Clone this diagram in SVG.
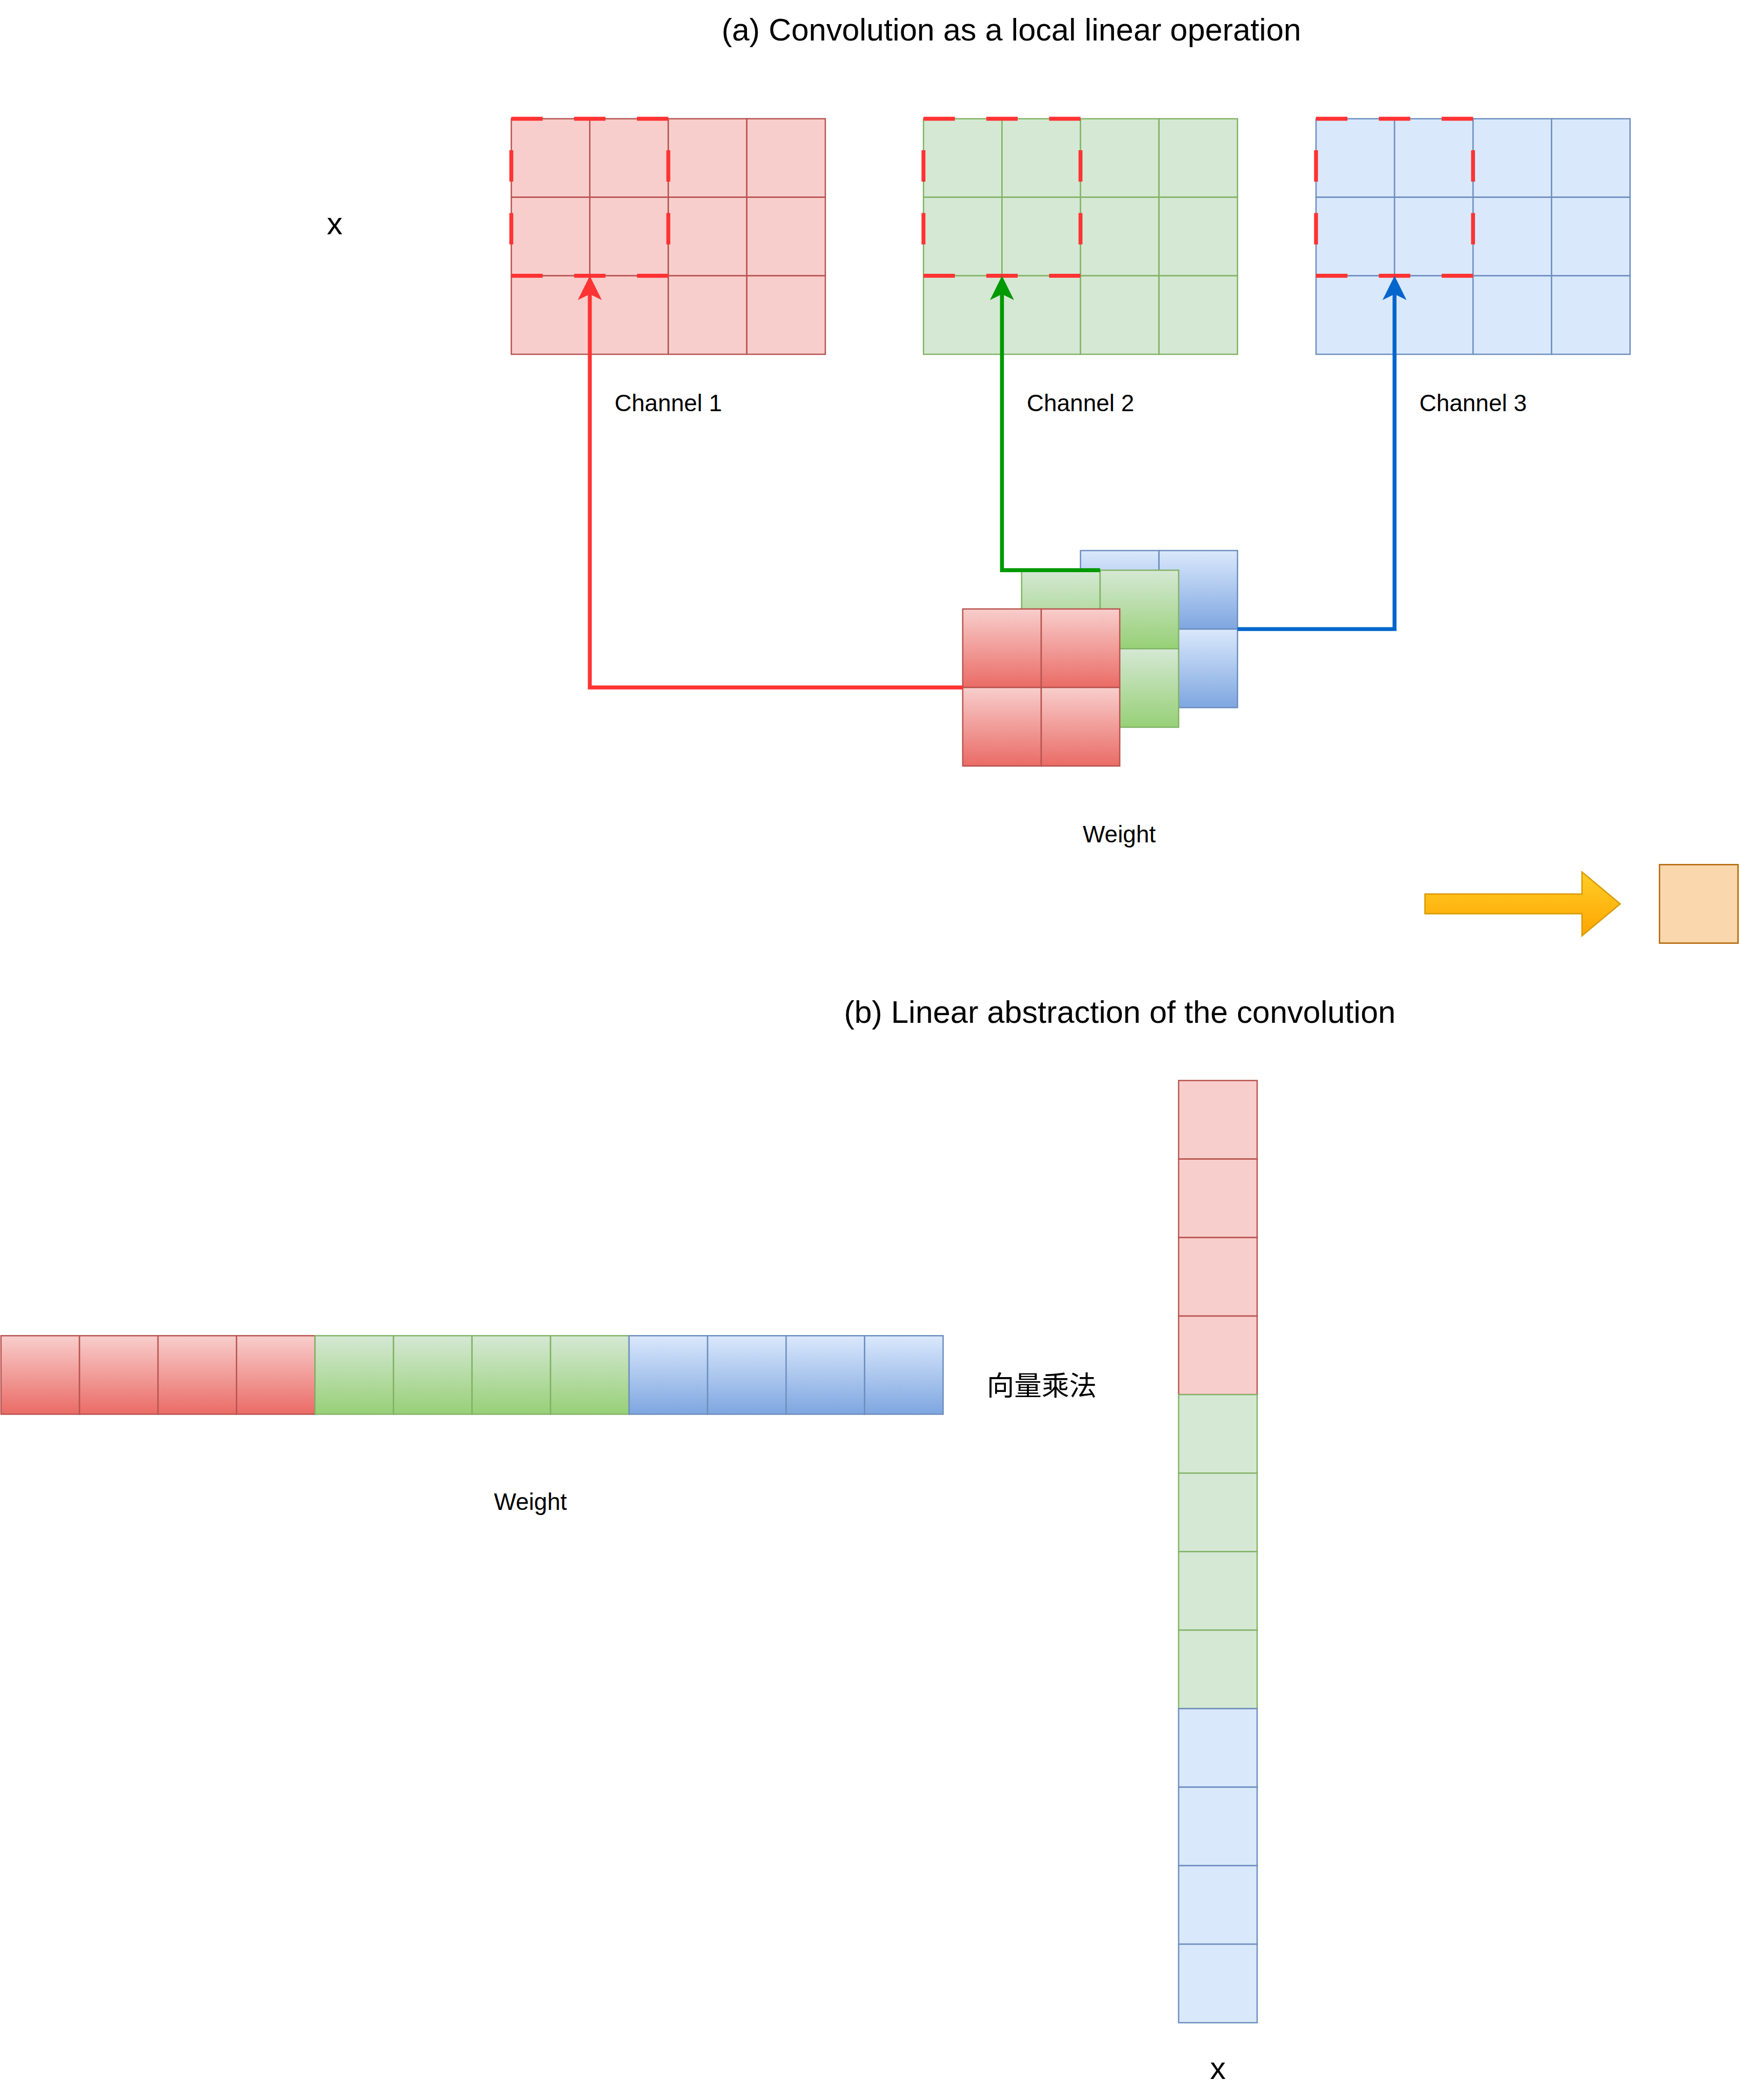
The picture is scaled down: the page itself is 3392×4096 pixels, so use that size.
<svg xmlns="http://www.w3.org/2000/svg" width="3392" height="4096" viewBox="0 0 3392 4096">
<defs>
  <linearGradient id="gr" x1="0" y1="0" x2="0" y2="1"><stop offset="0" stop-color="#F8CECC"/><stop offset="1" stop-color="#EA6B66"/></linearGradient>
  <linearGradient id="gg" x1="0" y1="0" x2="0" y2="1"><stop offset="0" stop-color="#D5E8D4"/><stop offset="1" stop-color="#97D077"/></linearGradient>
  <linearGradient id="gb" x1="0" y1="0" x2="0" y2="1"><stop offset="0" stop-color="#DAE8FC"/><stop offset="1" stop-color="#7EA6E0"/></linearGradient>
  <linearGradient id="go" x1="0" y1="0" x2="0" y2="1"><stop offset="0" stop-color="#FFCD28"/><stop offset="1" stop-color="#FFA500"/></linearGradient>
  <marker id="mr" markerUnits="userSpaceOnUse" viewBox="-13 -25 51 50" markerWidth="51" markerHeight="50" refX="0" refY="0" orient="auto"><path d="M37.5,0 L-12,-24.5 L0,0 L-12,24.5 Z" fill="#FF3333"/></marker>
  <marker id="mg" markerUnits="userSpaceOnUse" viewBox="-13 -25 51 50" markerWidth="51" markerHeight="50" refX="0" refY="0" orient="auto"><path d="M37.5,0 L-12,-24.5 L0,0 L-12,24.5 Z" fill="#009900"/></marker>
  <marker id="mb" markerUnits="userSpaceOnUse" viewBox="-13 -25 51 50" markerWidth="51" markerHeight="50" refX="0" refY="0" orient="auto"><path d="M37.5,0 L-12,-24.5 L0,0 L-12,24.5 Z" fill="#0066CC"/></marker>
</defs>
<style>
  .c rect{width:160px;height:160px;stroke-width:2.67}
  .r{fill:#F8CECC;stroke:#B85450}
  .g{fill:#D5E8D4;stroke:#82B366}
  .b{fill:#DAE8FC;stroke:#6C8EBF}
  .rg{fill:url(#gr);stroke:#B85450}
  .gg{fill:url(#gg);stroke:#82B366}
  .bg{fill:url(#gb);stroke:#6C8EBF}
  .dash{fill:none;stroke:#FF3333;stroke-width:8;stroke-dasharray:64 64}
  .edge{fill:none;stroke-width:8}
  .t{font-family:"Liberation Sans",Arial,Helvetica,sans-serif;fill:#000;text-anchor:middle}
  .cjk{font-family:"Liberation Sans","Noto Sans CJK SC",sans-serif;fill:#000;text-anchor:middle}
</style>
<rect x="0" y="0" width="3392" height="4096" fill="#FFFFFF"/>
<g transform="scale(0.957111)">
  <text class="t" x="2061" y="83" font-size="64">(a) Convolution as a local linear operation</text>
  <text class="t" x="682" y="478" font-size="64">x</text>

  <g id="channel1-grid" class="c">
    <rect class="r" x="1042" y="242"/><rect class="r" x="1202" y="242"/><rect class="r" x="1362" y="242"/><rect class="r" x="1522" y="242"/>
    <rect class="r" x="1042" y="402"/><rect class="r" x="1202" y="402"/><rect class="r" x="1362" y="402"/><rect class="r" x="1522" y="402"/>
    <rect class="r" x="1042" y="562"/><rect class="r" x="1202" y="562"/><rect class="r" x="1362" y="562"/><rect class="r" x="1522" y="562"/>
  </g>
  <g id="channel2-grid" class="c">
    <rect class="g" x="1882" y="242"/><rect class="g" x="2042" y="242"/><rect class="g" x="2202" y="242"/><rect class="g" x="2362" y="242"/>
    <rect class="g" x="1882" y="402"/><rect class="g" x="2042" y="402"/><rect class="g" x="2202" y="402"/><rect class="g" x="2362" y="402"/>
    <rect class="g" x="1882" y="562"/><rect class="g" x="2042" y="562"/><rect class="g" x="2202" y="562"/><rect class="g" x="2362" y="562"/>
  </g>
  <g id="channel3-grid" class="c">
    <rect class="b" x="2682" y="242"/><rect class="b" x="2842" y="242"/><rect class="b" x="3002" y="242"/><rect class="b" x="3162" y="242"/>
    <rect class="b" x="2682" y="402"/><rect class="b" x="2842" y="402"/><rect class="b" x="3002" y="402"/><rect class="b" x="3162" y="402"/>
    <rect class="b" x="2682" y="562"/><rect class="b" x="2842" y="562"/><rect class="b" x="3002" y="562"/><rect class="b" x="3162" y="562"/>
  </g>
  <g id="windows">
    <rect class="dash" x="1042" y="242" width="320" height="320"/>
    <rect class="dash" x="1882" y="242" width="320" height="320"/>
    <rect class="dash" x="2682" y="242" width="320" height="320"/>
  </g>
  <text class="t" x="1362" y="838" font-size="48">Channel 1</text>
  <text class="t" x="2202" y="838" font-size="48">Channel 2</text>
  <text class="t" x="3002" y="838" font-size="48">Channel 3</text>

  <g id="weight-blue" class="c">
    <rect class="bg" x="2202" y="1122"/><rect class="bg" x="2362" y="1122"/>
    <rect class="bg" x="2202" y="1282"/><rect class="bg" x="2362" y="1282"/>
  </g>
  <g id="weight-green" class="c">
    <rect class="gg" x="2082" y="1162"/><rect class="gg" x="2242" y="1162"/>
    <rect class="gg" x="2082" y="1322"/><rect class="gg" x="2242" y="1322"/>
  </g>
  <g id="weight-red" class="c">
    <rect class="rg" x="1962" y="1241"/><rect class="rg" x="2122" y="1241"/>
    <rect class="rg" x="1962" y="1401"/><rect class="rg" x="2122" y="1401"/>
  </g>
  <text class="t" x="2281" y="1717" font-size="48">Weight</text>

  <g id="connectors">
    <path class="edge" stroke="#FF3333" marker-end="url(#mr)" d="M1962,1401 H1202 V599.5"/>
    <path class="edge" stroke="#009900" marker-end="url(#mg)" d="M2242,1162 H2042 V599.5"/>
    <path class="edge" stroke="#0066CC" marker-end="url(#mb)" d="M2522,1282 H2842 V599.5"/>
  </g>

  <g id="result-arrow">
    <polygon points="2904,1822 3224,1822 3224,1777 3302,1842 3224,1907 3224,1862 2904,1862" fill="url(#go)" stroke="#D79B00" stroke-width="2.67"/>
  </g>
  <g id="result">
    <rect x="3382" y="1762" width="160" height="160" fill="#FAD7AC" stroke="#B46504" stroke-width="2.67"/>
  </g>

  <text class="t" x="2282" y="2084" font-size="64">(b) Linear abstraction of the convolution</text>

  <g id="weight-row" class="c">
    <rect class="rg" x="2" y="2722"/><rect class="rg" x="162" y="2722"/><rect class="rg" x="322" y="2722"/><rect class="rg" x="482" y="2722"/>
    <rect class="gg" x="642" y="2722"/><rect class="gg" x="802" y="2722"/><rect class="gg" x="962" y="2722"/><rect class="gg" x="1122" y="2722"/>
    <rect class="bg" x="1282" y="2722"/><rect class="bg" x="1442" y="2722"/><rect class="bg" x="1602" y="2722"/><rect class="bg" x="1762" y="2722"/>
  </g>
  <text class="t" x="1081" y="3077" font-size="48">Weight</text>
  <text class="cjk" x="2123" y="2844" font-size="56">向量乘法</text>

  <g id="x-column" class="c">
    <rect class="r" x="2402" y="2202"/><rect class="r" x="2402" y="2362"/><rect class="r" x="2402" y="2522"/><rect class="r" x="2402" y="2682"/>
    <rect class="g" x="2402" y="2842"/><rect class="g" x="2402" y="3002"/><rect class="g" x="2402" y="3162"/><rect class="g" x="2402" y="3322"/>
    <rect class="b" x="2402" y="3482"/><rect class="b" x="2402" y="3642"/><rect class="b" x="2402" y="3802"/><rect class="b" x="2402" y="3962"/>
  </g>
  <text class="t" x="2482" y="4237" font-size="64">x</text>
</g>
</svg>
